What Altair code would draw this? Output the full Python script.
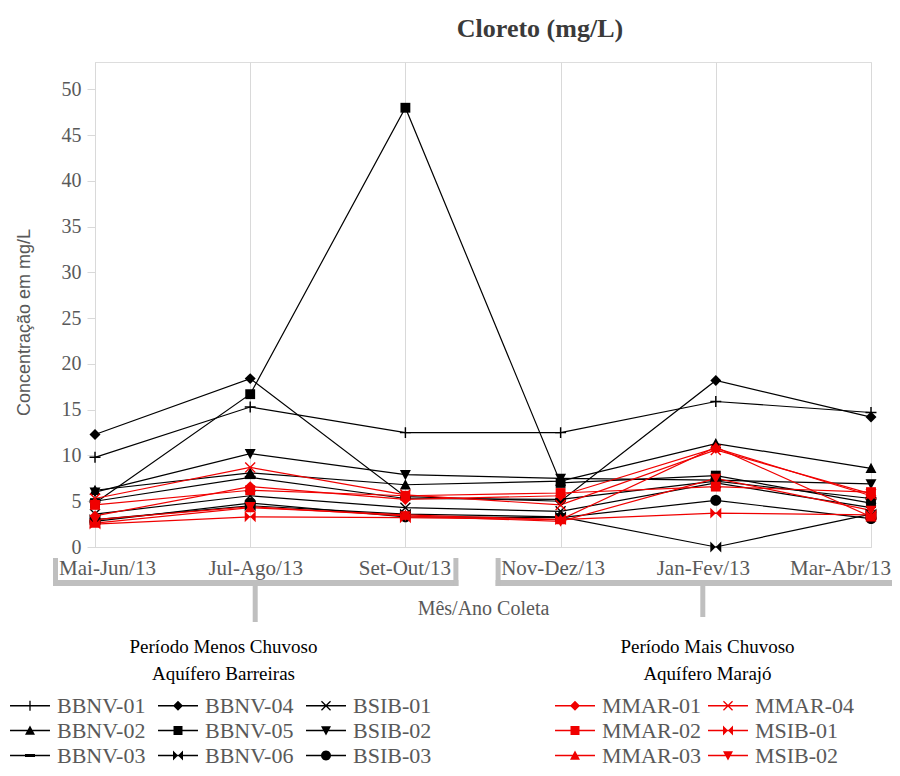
import math
import altair as alt
import pandas as pd

# ---------------- data ----------------
meses = ["Mai-Jun/13", "Jul-Ago/13", "Set-Out/13", "Nov-Dez/13", "Jan-Fev/13", "Mar-Abr/13"]
y_ticks = [0, 5, 10, 15, 20, 25, 30, 35, 40, 45, 50]

# Aquífero Barreiras (black); legend fills column by column
barreiras_series = ["BBNV-01", "BBNV-02", "BBNV-03",
                    "BBNV-04", "BBNV-05", "BBNV-06",
                    "BSIB-01", "BSIB-02", "BSIB-03"]
bbnv_01 = [9.8, 15.3, 12.5, 12.5, 15.9, 14.7]
bbnv_02 = [6.2, 8.1, 6.8, 7.2, 11.3, 8.6]
bbnv_03 = [5.0, 7.6, 5.3, 5.2, 7.2, 5.3]
bbnv_04 = [12.3, 18.4, 5.5, 5.0, 18.2, 14.2]
bbnv_05 = [4.8, 16.7, 48.0, 7.0, 7.8, 4.8]
bbnv_06 = [3.0, 4.5, 3.6, 3.3, 0.0, 3.6]
bsib_01 = [3.6, 5.6, 4.3, 3.9, 7.0, 4.3]
bsib_02 = [6.0, 10.2, 7.9, 7.5, 7.3, 6.9]
bsib_03 = [2.8, 4.8, 3.3, 3.2, 5.1, 3.1]

# Aquífero Marajó (red); legend fills column by column
marajo_series = ["MMAR-01", "MMAR-02", "MMAR-03",
                 "MMAR-04", "MSIB-01", "MSIB-02"]
mmar_01 = [3.4, 6.6, 5.2, 5.6, 10.8, 5.6]
mmar_02 = [4.6, 6.2, 5.6, 5.9, 6.6, 6.0]
mmar_03 = [2.6, 4.3, 3.5, 3.0, 10.9, 3.3]
mmar_04 = [5.3, 8.7, 5.7, 4.6, 10.6, 5.8]
msib_01 = [2.5, 3.3, 3.2, 3.0, 3.7, 3.5]
msib_02 = [3.0, 4.4, 3.4, 2.8, 7.5, 4.0]

barreiras_values = {
    "BBNV-01": bbnv_01, "BBNV-02": bbnv_02, "BBNV-03": bbnv_03,
    "BBNV-04": bbnv_04, "BBNV-05": bbnv_05, "BBNV-06": bbnv_06,
    "BSIB-01": bsib_01, "BSIB-02": bsib_02, "BSIB-03": bsib_03,
}
marajo_values = {
    "MMAR-01": mmar_01, "MMAR-02": mmar_02, "MMAR-03": mmar_03,
    "MMAR-04": mmar_04, "MSIB-01": msib_01, "MSIB-02": msib_02,
}

# group brackets under the x axis
bracket_inicio = ["Mai-Jun/13", "Nov-Dez/13"]
bracket_fim = ["Set-Out/13", "Mar-Abr/13"]
bracket_haste = ["Jul-Ago/13", "Jan-Fev/13"]

# x label nudges (labels in the original are slightly closer together than the grid)
label_nudge = [12, 5, -1, -8, -13, -31]

# ---------------- marker shapes (unit square [-1, 1]) ----------------
def rect(x0, y0, x1, y1):
    return [(x0, y0), (x1, y0), (x1, y1), (x0, y1)]

circle_pts = [(math.cos(2 * math.pi * k / 28), math.sin(2 * math.pi * k / 28)) for k in range(28)]
markers = {
    "plus": [rect(-1, -0.13, 1, 0.13), rect(-0.13, -1, 0.13, 1)],
    "x": [[(-0.82, -1), (1, 0.82), (0.82, 1), (-1, -0.82)],
          [(0.82, -1), (1, -0.82), (-0.82, 1), (-1, 0.82)]],
    "diamond": [[(0, -1), (1, 0), (0, 1), (-1, 0)]],
    "square": [rect(-0.9, -0.9, 0.9, 0.9)],
    "up": [[(0, -1), (1, 0.85), (-1, 0.85)]],
    "down": [[(-1, -0.85), (1, -0.85), (0, 1)]],
    "dash": [rect(-1, -0.3, 1, 0.3)],
    "bowtie": [[(-1, -1), (0, 0), (-1, 1)], [(1, -1), (1, 1), (0, 0)]],
    "circle": [circle_pts],
}

def path(polys, s=1.0):
    out = []
    for poly in polys:
        pts = ["%.3f,%.3f" % (x * s, y * s) for x, y in poly]
        out.append("M" + "L".join(pts) + "Z")
    return "".join(out)

def legend_path(polys):
    line = [rect(-1.48, -0.05, 1.48, 0.05)]
    return path(line) + path(polys, 0.37)

barreiras_shapes = {"BBNV-01": "plus", "BBNV-04": "diamond", "BSIB-01": "x",
                    "BBNV-02": "up", "BBNV-05": "square", "BSIB-02": "down",
                    "BBNV-03": "dash", "BBNV-06": "bowtie", "BSIB-03": "circle"}
marajo_shapes = {"MMAR-01": "diamond", "MMAR-04": "x", "MMAR-02": "square",
                 "MSIB-01": "bowtie", "MMAR-03": "up", "MSIB-02": "down"}

rows = []
for s, vals in barreiras_values.items():
    for m, v in zip(meses, vals):
        rows.append({"serie": s, "grupo": "B", "mes": m, "valor": v})
for s, vals in marajo_values.items():
    for m, v in zip(meses, vals):
        rows.append({"serie": s, "grupo": "M", "mes": m, "valor": v})
df = pd.DataFrame(rows)
brackets = pd.DataFrame({"inicio": bracket_inicio, "fim": bracket_fim, "haste": bracket_haste})

FONT = "Liberation Serif"
SANS = "Liberation Sans"
GRAY = "#595959"
LIGHT = "#d9d9d9"
RED = "#f00000"
BRK = "#bfbfbf"
XSCALE = alt.Scale(type="point", domain=meses, padding=0)


def build(label_offset):
    x_enc = alt.X(
        "mes:N", sort=meses, scale=XSCALE,
        axis=alt.Axis(title="Mês/Ano Coleta", grid=True, gridColor=LIGHT, ticks=False,
                      domainColor=LIGHT, labelFont=FONT, labelFontSize=21, labelColor=GRAY,
                      labelAngle=0, labelAlign="center", labelPadding=21, labelOffset=label_offset,
                      titleFont=FONT, titleFontSize=20, titleFontWeight="normal", titleColor=GRAY,
                      titlePadding=20))
    y_enc = alt.Y(
        "valor:Q", scale=alt.Scale(domain=[0, 53], nice=False),
        axis=alt.Axis(values=y_ticks, title="Concentração em mg/L", grid=False, domainColor=LIGHT,
                      tickColor=LIGHT, tickSize=8, labelFont=FONT, labelFontSize=20, labelColor=GRAY,
                      labelPadding=6, titleFont=SANS, titleFontSize=18, titleFontWeight="normal",
                      titleColor=GRAY, titleX=-62, titleY=260))

    base = alt.Chart(df)
    b = base.transform_filter(alt.datum.grupo == "B")
    r = base.transform_filter(alt.datum.grupo == "M")

    lines_b = b.mark_line(color="black", strokeWidth=1.2).encode(x=x_enc, y=y_enc, detail="serie:N")
    lines_r = r.mark_line(color=RED, strokeWidth=1.2).encode(x=x_enc, y=y_enc, detail="serie:N")

    pts_b = b.mark_point(filled=True, opacity=1, size=120, color="black", strokeWidth=0).encode(
        x=x_enc, y=y_enc,
        shape=alt.Shape("serie:N", scale=alt.Scale(domain=barreiras_series,
                        range=[path(markers[barreiras_shapes[s]]) for s in barreiras_series]), legend=None))
    pts_r = r.mark_point(filled=True, opacity=1, size=120, color=RED, strokeWidth=0).encode(
        x=x_enc, y=y_enc,
        shape=alt.Shape("serie:N", scale=alt.Scale(domain=marajo_series,
                        range=[path(markers[marajo_shapes[s]]) for s in marajo_series]), legend=None))

    def make_legend(title, lx, cols, color, colpad):
        return alt.Legend(title=title, orient="none", legendX=lx, legendY=576, columns=cols,
                          symbolSize=729, symbolStrokeWidth=0, symbolOpacity=1, symbolFillColor=color,
                          labelFont=FONT, labelFontSize=22, labelColor=GRAY, labelOffset=13.5,
                          labelLimit=250, columnPadding=colpad, rowPadding=0,
                          titleFont=FONT, titleFontSize=19, titleFontWeight="normal", titleColor="black",
                          titleAnchor="middle", titleAlign="center", titleLineHeight=27, titlePadding=8,
                          titleLimit=500)

    leg_b = b.mark_point(filled=True, opacity=0, color="black").encode(
        x=x_enc, y=y_enc,
        shape=alt.Shape("serie:N", scale=alt.Scale(domain=barreiras_series,
                        range=[legend_path(markers[barreiras_shapes[s]]) for s in barreiras_series]),
                        legend=make_legend(["Período Menos Chuvoso", "Aquífero Barreiras"], -78.5, 3, "black", 12)))
    leg_r = r.mark_point(filled=True, opacity=0, color=RED).encode(
        x=x_enc, y=y_enc,
        shape=alt.Shape("serie:N", scale=alt.Scale(domain=marajo_series,
                        range=[legend_path(markers[marajo_shapes[s]]) for s in marajo_series]),
                        legend=make_legend(["Período Mais Chuvoso", "Aquífero Marajó"], 466.5, 2, RED, 6)))

    bk = alt.Chart(brackets)
    br1 = bk.transform_filter(alt.datum.inicio == "Mai-Jun/13")
    br2 = bk.transform_filter(alt.datum.inicio == "Nov-Dez/13")

    def bracket_layers(src, left, right, stem, stem_bottom):
        horiz = src.mark_rule(color=BRK, strokeWidth=6, xOffset=left, x2Offset=right).encode(
            x=alt.X("inicio:N", scale=XSCALE), x2="fim:N", y=alt.value(521))
        lside = src.mark_rule(color=BRK, strokeWidth=5, xOffset=left + 2.5).encode(
            x=alt.X("inicio:N", scale=XSCALE), y=alt.value(496), y2=alt.value(524))
        rside = src.mark_rule(color=BRK, strokeWidth=5, xOffset=right - 2.5).encode(
            x=alt.X("fim:N", scale=XSCALE), y=alt.value(496), y2=alt.value(524))
        st = src.mark_rule(color=BRK, strokeWidth=5, xOffset=stem).encode(
            x=alt.X("haste:N", scale=XSCALE), y=alt.value(521), y2=alt.value(stem_bottom))
        return [horiz, lside, rside, st]

    layers = bracket_layers(br1, -42, 53, 5, 560) + bracket_layers(br2, -65, 32, -13, 555)

    ch = alt.layer(*layers, lines_b, lines_r, pts_b, pts_r, leg_b, leg_r).resolve_scale(
        shape="independent"
    ).properties(
        width=776, height=485,
        autosize=alt.AutoSizeParams(type="none"),
        padding={"left": 87, "top": 54, "right": 21, "bottom": 221},
        title=alt.TitleParams("Cloreto (mg/L)", font=FONT, fontSize=26, fontWeight="bold",
                              color="#3a3a3a", anchor="middle", dx=57, offset=20),
    ).configure_view(stroke=None).configure(background="white")
    return ch


conds = [{"test": "datum.value === '%s'" % m, "value": v} for m, v in zip(meses, label_nudge)]
try:
    chart = build({"condition": conds, "value": 0})
    chart.to_dict()
except Exception:
    chart = build({"condition": {"test": "datum.value === 'Mar-Abr/13'", "value": -31}, "value": 0})

chart.save("out.html", embed_options={"renderer": "svg", "actions": False})
